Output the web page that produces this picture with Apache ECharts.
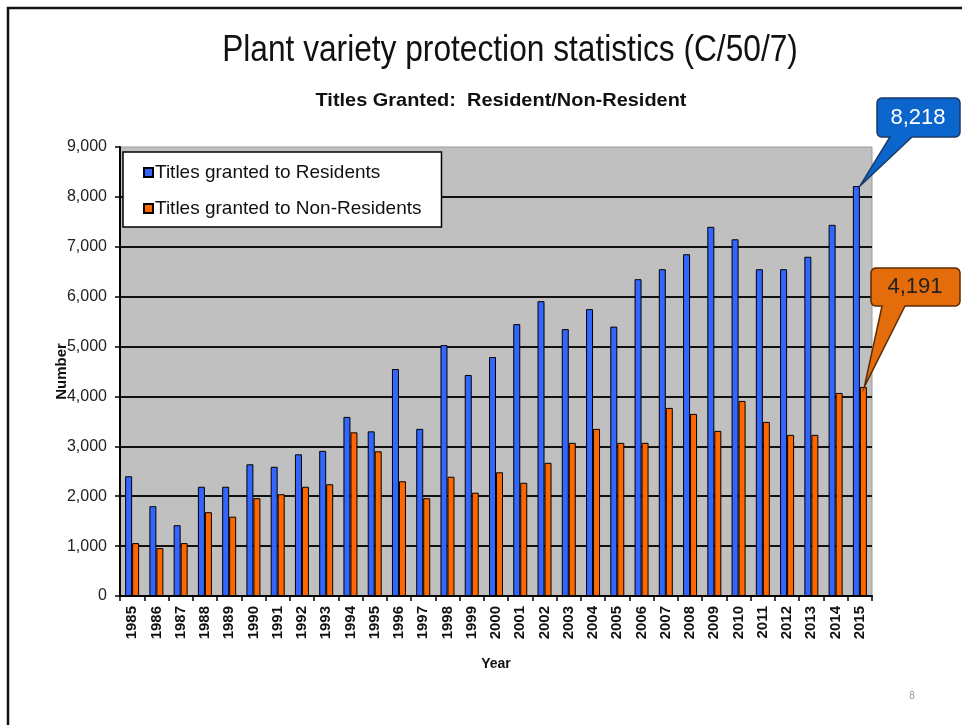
<!DOCTYPE html>
<html lang="en">
<head>
<meta charset="utf-8">
<script src="https://cdn.jsdelivr.net/npm/echarts@6/dist/echarts.min.js"></script>
</head>
<body style="margin:0;background:#fff">
<div id="container" style="width:962px;height:725px;"></div>
<script type="text/javascript">
var years = ['1985', '1986', '1987', '1988', '1989', '1990', '1991', '1992', '1993', '1994',
    '1995', '1996', '1997', '1998', '1999', '2000', '2001', '2002', '2003', '2004',
    '2005', '2006', '2007', '2008', '2009', '2010', '2011', '2012', '2013', '2014', '2015'];
var residents = [2400, 1800, 1420, 2190, 2190, 2640, 2590, 2840, 2910, 3590,
    3300, 4550, 3350, 5030, 4430, 4790, 5450, 5910, 5350, 5750,
    5400, 6350, 6550, 6850, 7400, 7150, 6550, 6550, 6800, 7440, 8218];
var nonResidents = [1060, 960, 1060, 1680, 1590, 1960, 2040, 2190, 2240, 3280,
    2900, 2300, 1960, 2390, 2070, 2480, 2270, 2670, 3070, 3350,
    3070, 3070, 3770, 3650, 3310, 3910, 3490, 3230, 3230, 4070, 4191];
var yTicks = [0, 1000, 2000, 3000, 4000, 5000, 6000, 7000, 8000, 9000];

var dom = document.getElementById('container');
var myChart = echarts.init(dom, null, { renderer: 'canvas' });

var sans = "'Liberation Sans', Arial, sans-serif";
var barW = 7;

var option = {
    backgroundColor: '#fff',
    animation: false,
    legend: {
        orient: 'vertical',
        left: 123,
        top: 152,
        backgroundColor: '#fff',
        borderColor: '#000',
        borderWidth: 1.5,
        padding: [11, 20, 9, 20],
        itemGap: 17,
        itemWidth: 9,
        itemHeight: 9,
        icon: 'rect',
        textStyle: { fontFamily: sans, fontSize: 19, color: '#111', padding: [0, 0, 0, -3] },
        data: ['Titles granted to Residents', 'Titles granted to Non-Residents']
    },
    grid: {
        left: 120,
        right: 90,
        top: 147,
        bottom: 129,
        show: true,
        backgroundColor: '#C0C0C0',
        borderColor: '#9a9a9a',
        borderWidth: 1
    },
    xAxis: {
        type: 'category',
        data: years,
        name: 'Year',
        nameLocation: 'middle',
        nameGap: 61,
        nameTextStyle: { fontFamily: sans, fontSize: 14, fontWeight: 'bold', color: '#111' },
        axisLine: { lineStyle: { color: '#000', width: 2 } },
        axisTick: { show: true, length: 5, lineStyle: { color: '#000', width: 1.5 } },
        axisLabel: {
            rotate: 90,
            interval: 0,
            margin: 10,
            fontFamily: sans,
            fontSize: 15,
            fontWeight: 'bold',
            color: '#111'
        }
    },
    yAxis: {
        type: 'value',
        min: yTicks[0],
        max: yTicks[yTicks.length - 1],
        interval: 1000,
        name: 'Number',
        nameLocation: 'middle',
        nameGap: 51,
        nameRotate: 90,
        nameMoveOverlap: false,
        nameTextStyle: { fontFamily: sans, fontSize: 15, fontWeight: 'bold', color: '#111' },
        axisLine: { show: true, lineStyle: { color: '#000', width: 2 } },
        axisTick: { show: true, length: 5, lineStyle: { color: '#000', width: 1.5 } },
        axisLabel: {
            margin: 13,
            fontFamily: sans,
            fontSize: 16,
            color: '#222',
            formatter: function (v) { return v.toLocaleString('en-US'); }
        },
        splitLine: { show: true, showMaxLine: false, lineStyle: { color: '#111', width: 2 } }
    },
    series: [
        {
            name: 'Titles granted to Residents',
            type: 'bar',
            barWidth: barW,
            barGap: '0%',
            itemStyle: { color: '#3366FF', borderColor: '#000', borderWidth: 1 },
            data: residents
        },
        {
            name: 'Titles granted to Non-Residents',
            type: 'bar',
            barWidth: barW,
            barGap: '0%',
            itemStyle: { color: '#FF6600', borderColor: '#000', borderWidth: 1 },
            data: nonResidents
        }
    ]
};
myChart.setOption(option);

// rounded box with a pointer running down to the bar top
function calloutPoints(x, y, w, h, r, b1, b2, tx, ty) {
    var pts = [];
    function arc(cx, cy, a0, a1) {
        for (var i = 0; i <= 5; i++) {
            var a = (a0 + (a1 - a0) * i / 5) * Math.PI / 180;
            pts.push([cx + r * Math.cos(a), cy + r * Math.sin(a)]);
        }
    }
    arc(x + r, y + r, 180, 270);
    arc(x + w - r, y + r, 270, 360);
    arc(x + w - r, y + h - r, 0, 90);
    pts.push([b2, y + h], [tx, ty], [b1, y + h]);
    arc(x + r, y + h - r, 90, 180);
    return pts;
}

var last = years.length - 1;
var cx = myChart.convertToPixel({ xAxisIndex: 0 }, years[last]);
var resTop = myChart.convertToPixel({ yAxisIndex: 0 }, residents[last]);
var nonTop = myChart.convertToPixel({ yAxisIndex: 0 }, nonResidents[last]);

myChart.setOption({
    graphic: [
        {
            type: 'rect', z: 0, silent: true,
            shape: { x: 8, y: 8, width: 1000, height: 800 },
            style: { fill: 'none', stroke: '#111', lineWidth: 2.5 }
        },
        {
            type: 'text', silent: true,
            x: 510, y: 51, scaleX: 0.88,
            style: {
                text: 'Plant variety protection statistics (C/50/7)',
                x: 0, y: 0, align: 'center', verticalAlign: 'middle',
                font: '36px ' + sans, fill: '#111'
            }
        },
        {
            type: 'text', silent: true,
            x: 501, y: 101, scaleX: 1.05,
            style: {
                text: 'Titles Granted:  Resident/Non-Resident',
                x: 0, y: 0, align: 'center', verticalAlign: 'middle',
                font: 'bold 19px ' + sans, fill: '#111'
            }
        },
        {
            type: 'polygon', silent: true, z: 10,
            shape: { points: calloutPoints(877, 98, 83, 39, 5, 890, 912, cx, resTop) },
            style: { fill: '#0A66CC', stroke: '#1c3a66', lineWidth: 1.5 }
        },
        {
            type: 'text', silent: true, z: 11,
            style: {
                text: residents[last].toLocaleString('en-US'),
                x: 918, y: 118, align: 'center', verticalAlign: 'middle',
                font: '22px ' + sans, fill: '#fff'
            }
        },
        {
            type: 'polygon', silent: true, z: 10,
            shape: { points: calloutPoints(871, 268, 89, 38, 5, 882, 905, cx + barW * 0.5 + 1, nonTop) },
            style: { fill: '#E46C0A', stroke: '#5a2d06', lineWidth: 1.5 }
        },
        {
            type: 'text', silent: true, z: 11,
            style: {
                text: nonResidents[last].toLocaleString('en-US'),
                x: 915, y: 287, align: 'center', verticalAlign: 'middle',
                font: '22px ' + sans, fill: '#222'
            }
        },
        {
            type: 'text', silent: true,
            style: { text: '8', x: 912, y: 696, align: 'center', verticalAlign: 'middle', font: '10px ' + sans, fill: '#999' }
        }
    ]
});

window.addEventListener('resize', myChart.resize);
</script>
</body>
</html>
